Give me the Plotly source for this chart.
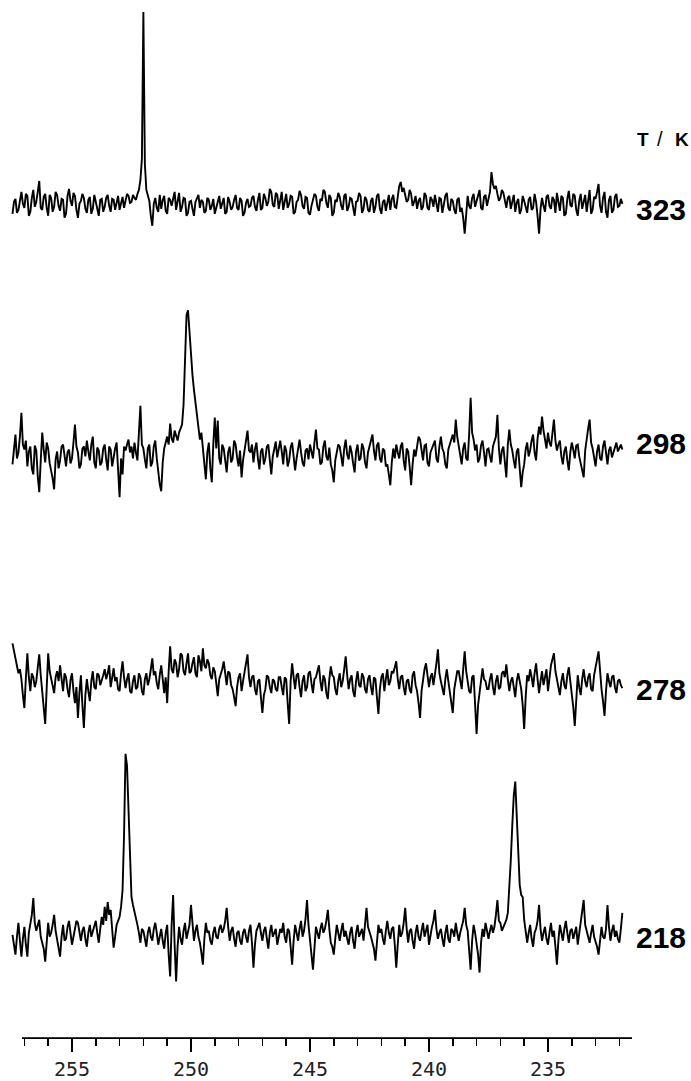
import plotly.graph_objects as go

# Chemical-shift grid of the recorded spectra (ppm, decreasing to the right)
ppm_start = 257.5
ppm_step = 0.0625

temperatures = ["323", "298", "278", "218"]

# Intensities (arbitrary units, baseline = 0)
spec_323 = [
    -10, 2, 5, -9, -6, 4, 12, 0, -4, 10, 8, -12, -8, 6, 14, -3, 2, 12, 23, -4,
    -6, 7, 10, -4, -12, 9, 6, -8, -3, 12, 9, -2, -7, 5, 4, -14, -10, 8, 15, 3,
    -2, 11, 8, -6, -14, 0, 3, 10, 6, -5, -9, 4, 7, -10, -5, 9, 2, -7, -12, 4,
    5, -8, -3, 6, 9, -2, -8, 5, 4, -6, 1, 8, -6, 2, 7, -4, 3, 10, 8, 1,
    2, 9, 6, 4, 10, 14, 24, 45, 193, 40, 14, 8, 3, -12, -22, 0, 6, -4, -8, 9,
    -5, 4, 8, -7, -10, 6, 4, -2, 7, 12, -6, 3, 11, -8, -3, 6, 5, -12, -9, 2,
    3, -5, -12, 2, 6, 9, -4, 4, 2, -9, -7, 6, 4, -6, -2, 5, -10, -4, 3, 8,
    -5, 2, 6, -10, -8, 7, 2, -6, -3, 4, 9, -4, -6, 6, 3, -12, -9, 1, 5, -3,
    -2, 6, 8, -3, -7, 4, 11, -6, -4, 10, 6, -2, 2, 15, 12, -1, -3, 11, 9, -5,
    5, 12, -6, 3, 10, -4, 0, 8, 7, -10, -8, 2, 4, 13, 9, -2, -5, 7, 6, -9,
    -11, -2, 4, 10, 8, -3, -7, 5, 3, 14, 12, 1, -4, 9, 6, -12, -9, 4, 2, 11,
    7, -2, -6, 8, 10, -7, -3, 6, 5, -4, -12, 2, 3, 11, 8, -9, -5, 7, 4, -6,
    -8, 3, 6, -9, -3, 8, 10, -5, -10, 2, 4, -7, 2, 9, -6, 5, 9, -3, -4, 10,
    18, 22, 12, 16, 9, 2, 4, 14, 10, -2, 2, 8, -5, 3, 6, -6, -3, 11, 8, -4,
    -6, 7, 4, -3, 9, 2, -8, 6, 5, -9, -2, 8, 11, -4, -7, 5, 3, -6, -10, 4,
    6, -8, -4, -14, -30, -6, 8, -2, -5, 6, 10, -3, 2, 9, 14, -4, -6, 7, 9, -2,
    4, 12, 32, 20, 15, 18, 10, 3, 6, 14, 11, 2, -4, 6, 8, -5, 2, 9, -8, 1,
    5, -10, -6, 8, 3, -4, -9, 4, 7, -6, -4, 10, 2, -12, -30, -5, 6, -2, -8, 7,
    9, -2, -5, 7, 4, -9, 11, 2, -7, 8, 6, -12, -10, 5, 13, -1, -3, 10, 8, -6,
    -12, 3, 10, -5, 2, 9, -8, 4, 14, -10, -6, 7, 5, 12, 20, -2, -9, 6, 12, -8,
    -14, 4, 8, -9, -6, 7, 10, -3, -2, 5, 0,
]

spec_298 = [
    -10, 6, 20, -4, 2, 18, 42, 10, 5, 14, -12, 3, 8, -14, -20, 9, 4, -22, -38, -6,
    22, 5, -8, 12, 6, -9, -15, -24, -35, -5, 3, -14, -6, 8, 10, -4, -12, 2, 5, -9,
    -4, 12, 30, 8, 2, -14, -10, 6, 8, -2, 14, 3, -6, 10, 18, -8, -14, 7, 4, -11,
    -8, 6, 10, -5, -16, 8, 5, -12, -2, 6, 12, -18, -43, -4, -20, 8, 4, 10, 15, 2,
    8, -4, 12, 2, -6, 22, 49, 10, 6, -5, -14, 6, 10, -12, -8, 8, 14, -4, -18, -30,
    -37, -8, 6, 14, 18, 10, 31, 16, 12, 24, 20, 14, 22, 26, 30, 50, 110, 140, 145, 120,
    95, 80, 65, 52, 40, 28, 15, 22, 5, -10, -25, 2, 12, -14, -28, 10, 37, 6, 34, -4,
    -10, 10, 6, -6, -18, 2, 8, -8, -4, 14, 10, -3, -12, 4, -23, -6, 5, 12, 24, 4,
    2, 10, -8, 5, 12, -4, -15, 3, 6, -10, -4, 8, 10, -6, -20, -2, 8, 13, -3, 6,
    14, 3, -10, 9, 4, -12, -6, 7, 12, -2, -16, -4, 8, 15, 2, -8, -12, 4, 6, -5,
    10, 2, -4, 12, 25, 6, 5, -10, -8, 8, 14, -2, -6, 7, -10, -16, -28, -6, 4, 10,
    8, -3, -12, 6, 15, 0, -5, 9, 2, -9, -18, 3, 10, -6, -4, 11, 6, -8, -14, 2,
    8, 14, 20, 4, -6, 9, 12, -4, -8, 6, 4, -12, -10, -20, -31, -8, 6, -4, 10, 2,
    -4, 8, 12, -6, -16, 6, 3, -12, -31, -10, 5, -2, 8, 18, 15, 4, -6, 9, 10, -8,
    -12, 2, 6, 10, 14, -4, -8, 8, 18, 6, 2, -10, -14, 5, 10, 16, 20, 12, 35, 18,
    8, 2, -10, 6, 12, -4, -6, 20, 57, 22, 15, 4, 10, -8, -4, 9, 14, 2, -12, 5,
    6, -2, -8, 8, 12, 18, 40, 6, -10, 4, 8, -12, -23, 10, 25, 10, 4, -6, -14, 3,
    6, -14, -33, -18, -10, 5, 12, -2, 4, 14, 20, 2, -6, 16, 28, 20, 38, 24, 15, 6,
    22, 12, 8, 20, 35, 14, 4, 10, 14, -2, -10, 3, 8, -6, -16, 2, 12, 5, -4, 9,
    10, -2, -8, -16, -23, 4, 18, 26, 35, 12, 6, -6, -12, 3, 10, -4, -6, 8, 14, 2,
    -10, 4, 8, -3, 2, 9, 12, 3, 6, 10, 5,
]

spec_278 = [
    40, 32, 28, 18, 10, 14, 4, -12, -25, 5, 30, 6, -8, 10, 6, -4, 2, 16, 29, 8,
    -6, -20, -41, -5, 30, 12, 4, -6, -10, 6, 12, 2, 18, 4, -8, 10, 6, -6, -14, 3,
    10, -8, -20, -4, -35, -10, 8, -22, -45, -12, 4, -8, -18, 2, 12, -4, -6, 10, 8, -2,
    2, 8, 14, 4, 10, 18, -4, 8, 15, 2, 6, -6, -8, 10, 22, 6, -5, 4, 10, -8,
    -10, 2, 8, -6, -4, 10, 6, -8, -12, 4, 10, -2, 4, 14, 25, 8, 12, 0, -6, 8,
    18, 4, -10, 6, -20, 12, 37, 14, 10, 24, 20, 6, 14, 30, 28, 12, 8, 20, 30, 10,
    12, 20, 26, 10, 6, 28, 22, 12, 35, 18, 15, 24, 20, 8, 4, 16, 12, 0, -13, 4,
    8, 14, 22, 6, -2, 12, 10, -2, -6, -14, -23, -4, 6, 10, -8, 2, 12, 20, 29, 6,
    -4, 6, 8, -6, -12, 2, 4, -14, -30, -12, -6, 8, 6, -4, -10, 4, 2, -6, -8, 6,
    6, -4, -12, 6, 4, -20, -41, 2, 20, 6, -6, 8, 10, -4, -14, 2, 8, -8, -4, 10,
    12, 0, -10, 4, 6, 12, 18, 2, -8, 8, 4, -10, -16, 4, 17, 8, 6, -6, -12, 2,
    10, -4, 2, 14, 27, 8, -6, 4, 8, -8, -14, 2, 12, -2, -4, 10, 6, -6, -10, 4,
    8, -4, -12, 6, 4, -14, -31, -6, 6, 10, -8, 4, 14, -2, 2, 12, 10, 16, 22, 4,
    -6, 6, 8, -4, -12, 2, 4, -6, -10, 8, 12, -2, -8, -20, -35, -8, 6, 14, 20, 4,
    -4, 6, 10, -2, 8, 20, 34, 10, 2, -6, -12, 4, 14, 2, -8, -18, -30, -6, 6, 12,
    12, 4, -6, 14, 32, 12, 4, -8, -10, 6, 8, -20, -51, -22, -8, 6, 15, 4, 2, -6,
    -6, 4, 10, -4, -12, 2, 8, -6, -4, 10, 12, 6, 19, 4, -8, 2, 6, -4, -14, 2,
    10, 2, -6, -22, -46, -14, 8, 2, 14, 6, -4, 10, 20, 4, -10, 2, 12, -2, 6, 14,
    -8, 6, 18, 24, 30, 12, 4, -6, -12, 2, 10, -2, -6, 8, 16, 2, -10, -24, -43, -10,
    8, -4, -12, 4, 14, 2, -4, 6, 10, -6, -8, 8, 18, 24, 32, 10, -6, -18, -33, -8,
    10, 2, -4, 6, 8, -4, -10, 2, 4, -2, -5,
]

spec_218 = [
    0, -8, -20, -2, 12, -6, -22, -4, 8, -10, -22, 2, 10, 20, 37, 12, 4, 10, 15, -2,
    -8, -14, -27, -4, 12, -2, 2, 10, 20, 4, -6, -12, -22, -2, 10, -6, -4, 8, 14, 2,
    -10, -2, 6, 14, 12, 2, -6, 4, 8, -4, -12, 2, 10, -2, 4, 8, 14, 2, -8, 6,
    18, 10, 28, 14, 33, 20, 25, 6, -13, -2, 10, 14, 18, 28, 45, 100, 182, 170, 120, 70,
    38, 30, 24, 16, 10, 2, -8, 6, 4, -4, -12, 2, 8, -2, -6, 6, 12, 2, -10, -2,
    6, -6, -14, 2, 10, -20, -42, 10, 40, -10, -47, -12, 8, -4, -10, 4, 12, -4, 4, 10,
    30, 12, -6, 4, 10, -2, -8, -18, -30, -4, 12, 2, 4, -6, -10, 2, 8, -2, -4, 6,
    10, 2, 6, 14, 27, 8, -6, 4, 8, -4, -12, 2, 4, -6, -10, 2, 6, -2, -8, 4,
    10, -8, -33, -10, 4, 8, 12, 2, -6, 4, 8, -4, -14, 2, 10, -2, 2, 6, -10, -2,
    6, 2, 12, -2, -8, 6, 4, -12, -30, -6, 10, 2, -6, 6, 14, -2, 4, 16, 35, 10,
    -10, -20, -35, -10, 8, 2, -4, 6, 12, 2, 6, 14, 25, 6, -8, -12, -20, -4, 10, 2,
    -6, 4, 12, -2, 4, -4, -10, 2, 8, -6, -14, 2, 10, -2, 2, 6, -6, 12, 27, 8,
    4, -2, -8, -14, -26, -4, 10, 2, 6, -4, -10, 4, 14, 2, -4, 6, 8, -10, -33, -10,
    10, -2, 2, 12, 27, 6, -8, 4, 6, -6, -14, 2, 10, -2, -6, 4, 12, -2, 4, 10,
    -10, 2, 8, 14, 25, 6, -4, 2, 6, -4, -12, 2, 10, -4, -8, 6, 4, -2, 12, 2,
    -6, 2, 8, 14, 27, 10, 4, -12, -35, -6, 10, 2, -8, -20, -38, -8, 6, -2, 12, 2,
    -4, 4, 10, 2, 8, 20, 35, 14, 12, 4, 8, 10, 15, 22, 45, 75, 110, 140, 154, 120,
    70, 50, 40, 38, 15, 4, -8, 2, 10, -4, -12, 2, 6, 14, 30, 6, -6, 2, 8, -4,
    -10, 2, 12, -2, 4, -12, -30, -6, 10, 2, -6, 6, 14, 2, -8, 4, 6, -4, 2, 8,
    -10, 2, 12, 20, 35, 10, 4, -4, -8, 2, 10, -2, -6, -12, -20, -4, 8, -2, -4, 6,
    30, 8, -6, 4, 10, -2, 4, -4, -8, 6, 22,
]

spectra = [spec_323, spec_298, spec_278, spec_218]

# Axis ticks
major_ticks = [255, 250, 245, 240, 235]

# ---- layout constants (pixels of the 691 x 1081 page) ----
W, H = 691, 1081
AXIS_Y = 1043              # pixel row of the ppm ruler
PX_PER_PPM = 23.8
RULER_LEFT, RIGHT = 22, 632
RULER_PPM_LEFT = 257.1
TRACE_LEFT = 10
baselines = [205, 457, 687, 940]

ruler_range = [RULER_PPM_LEFT, RULER_PPM_LEFT - (RIGHT - RULER_LEFT) / PX_PER_PPM]
trace_range = [RULER_PPM_LEFT + (RULER_LEFT - TRACE_LEFT) / PX_PER_PPM, ruler_range[1]]

fig = go.Figure()
for spec, base in zip(spectra, baselines):
    xs = [ppm_start - ppm_step * i for i in range(len(spec))]
    ys = [v - base for v in spec]
    fig.add_trace(go.Scatter(
        x=xs, y=ys, mode="lines", xaxis="x2", yaxis="y",
        line=dict(color="black", width=1.9), showlegend=False, hoverinfo="skip",
    ))

# invisible dummy trace to keep the ruler axis active
fig.add_trace(go.Scatter(x=[ruler_range[0]], y=[-AXIS_Y - 100], mode="markers",
                         marker=dict(opacity=0), xaxis="x", yaxis="y",
                         showlegend=False, hoverinfo="skip"))

fig.update_layout(
    width=W, height=H,
    margin=dict(l=0, r=0, t=0, b=0),
    paper_bgcolor="white", plot_bgcolor="white",
    xaxis=dict(
        domain=[RULER_LEFT / W, RIGHT / W], range=ruler_range, anchor="y",
        showline=True, linecolor="black", linewidth=1.5,
        showgrid=False, zeroline=False,
        tickmode="array", tickvals=major_ticks, ticktext=[str(t) for t in major_ticks],
        ticks="outside", ticklen=13, tickwidth=1.5, tickcolor="black",
        tickfont=dict(family="DejaVu Sans Mono", size=20, color="#222"),
        minor=dict(dtick=1, tick0=255, ticks="outside", ticklen=7,
                   tickwidth=1.5, tickcolor="black", showgrid=False),
    ),
    xaxis2=dict(
        domain=[TRACE_LEFT / W, RIGHT / W], range=trace_range, anchor="y",
        visible=False,
    ),
    yaxis=dict(
        domain=[(H - AXIS_Y) / H, 1], range=[-AXIS_Y, 0], visible=False,
    ),
)

label_font = dict(family="Liberation Sans", size=30, color="black", weight="bold")
label_y = [211, 446, 693, 943]
for t, ly in zip(temperatures, label_y):
    fig.add_annotation(text=t, xref="paper", yref="y", x=634 / W, y=-ly,
                       xanchor="left", yanchor="middle", showarrow=False,
                       font=label_font)

unit_font = dict(family="Liberation Sans", size=19, color="black", weight="bold")
for txt, ux in zip(["T", "/", "K"], [643, 660, 682]):
    fig.add_annotation(text=txt, xref="paper", yref="y", x=ux / W, y=-140,
                       xanchor="center", yanchor="middle", showarrow=False,
                       font=unit_font if txt != "/" else dict(family="Liberation Sans", size=20, color="black"))

fig.write_html(
    "out.html",
    config={"displayModeBar": False, "staticPlot": True},
    post_script="document.body.style.margin='0';document.body.style.overflow='hidden';",
)
